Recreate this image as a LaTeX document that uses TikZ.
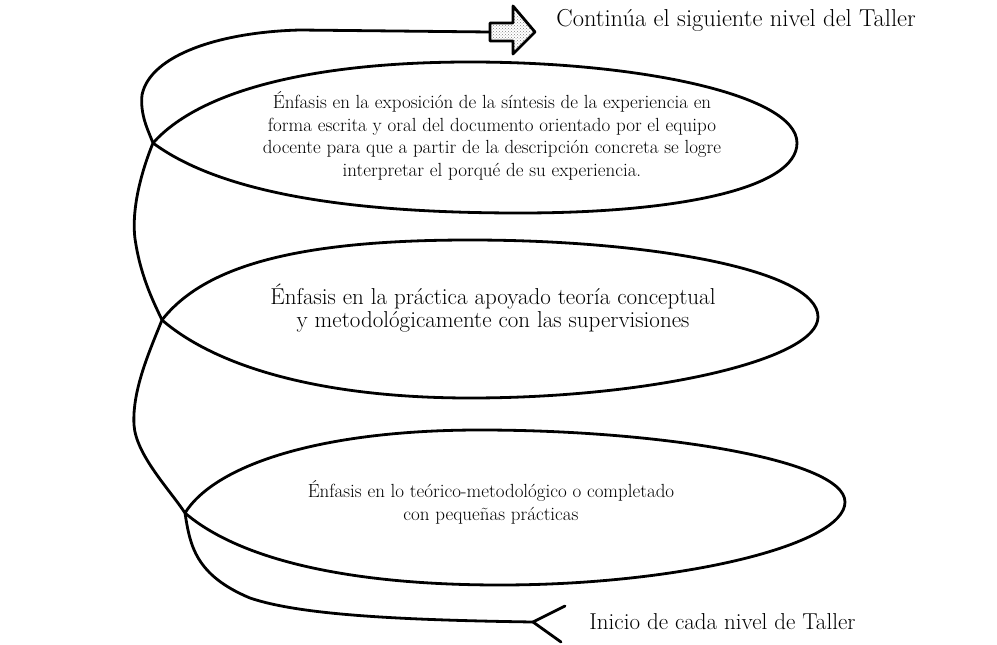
\documentclass[tikz,border=0pt]{standalone}
\usepackage{tikz}
\usetikzlibrary{calc,patterns}

\begin{document}
\begin{tikzpicture}[x=1pt, y=-1pt, line width=2.8pt, line join=round, line cap=round]
            \useasboundingbox (0,0) rectangle (997,645);
            \coordinate (k1) at (153,143);
            \coordinate (k2) at (162,320);
            \coordinate (k3) at (185,513);
            \coordinate (tail) at (533,622);
            \coordinate (start) at (490,32);
        % loops
            \draw (k1) .. controls (205,85) and (330,62) .. (470,62) .. controls (640,62) and (797,95) .. (797,143)
                       .. controls (797,188) and (680,213) .. (520,213) .. controls (380,213) and (230,200) .. (k1);
            \draw (k2) .. controls (205,265) and (300,240) .. (470,240) .. controls (650,240) and (818,270) .. (818,317)
                       .. controls (818,360) and (650,398) .. (470,398) .. controls (330,398) and (220,370) .. (k2);
            \draw (k3) .. controls (215,465) and (320,430) .. (480,430) .. controls (660,430) and (845,460) .. (845,502)
                       .. controls (845,545) and (680,585) .. (500,585) .. controls (350,585) and (240,560) .. (k3);
        % spine
            \draw (start) -- (300,30) .. controls (220,32) and (150,55) .. (142,95) .. controls (140,115) and (148,130) .. (k1)
                  .. controls (140,175) and (130,215) .. (136,245) .. controls (142,280) and (155,305) .. (k2)
                  .. controls (150,350) and (132,390) .. (134,425) .. controls (136,455) and (170,490) .. (k3)
                  .. controls (190,545) and (195,575) .. (250,598) .. controls (300,615) and (400,620) .. (tail);
            \draw (tail) -- (565,606)
                  (tail) -- (561,642);
        % arrow
            \draw [pattern color = gray, pattern = crosshatch dots] (490,23) -- (513,23) -- (513,6) -- (535,32)
                  -- (513,54) -- (513,41) -- (490,41) -- cycle;
        % texts
            \node [anchor = west, inner sep = 0pt, font = \fontsize{24.5}{26}\selectfont] (cont) at (555,20) {Continúa el siguiente nivel del Taller};
            \node [anchor = west, inner sep = 0pt, font = \fontsize{23}{26}\selectfont] (inicio) at (588,622) {Inicio de cada nivel de Taller};
            \node [align = center, font = \fontsize{19}{22.5}\selectfont] (t1) at (492,136)
                {Énfasis en la exposición de la síntesis de la experiencia en\\
                 forma escrita y oral del documento orientado por el equipo\\
                 docente para que a partir de la descripción concreta se logre\\
                 interpretar el porqué de su experiencia.};
            \node [align = center, font = \fontsize{23}{23}\selectfont] (t2) at (493,308)
                {Énfasis en la práctica apoyado teoría conceptual\\
                 y metodológicamente con las supervisiones};
            \node [align = center, font = \fontsize{19}{23}\selectfont] (t3) at (491,502)
                {Énfasis en lo teórico-metodológico o completado\\
                 con pequeñas prácticas};
        \end{tikzpicture}
\end{document}
